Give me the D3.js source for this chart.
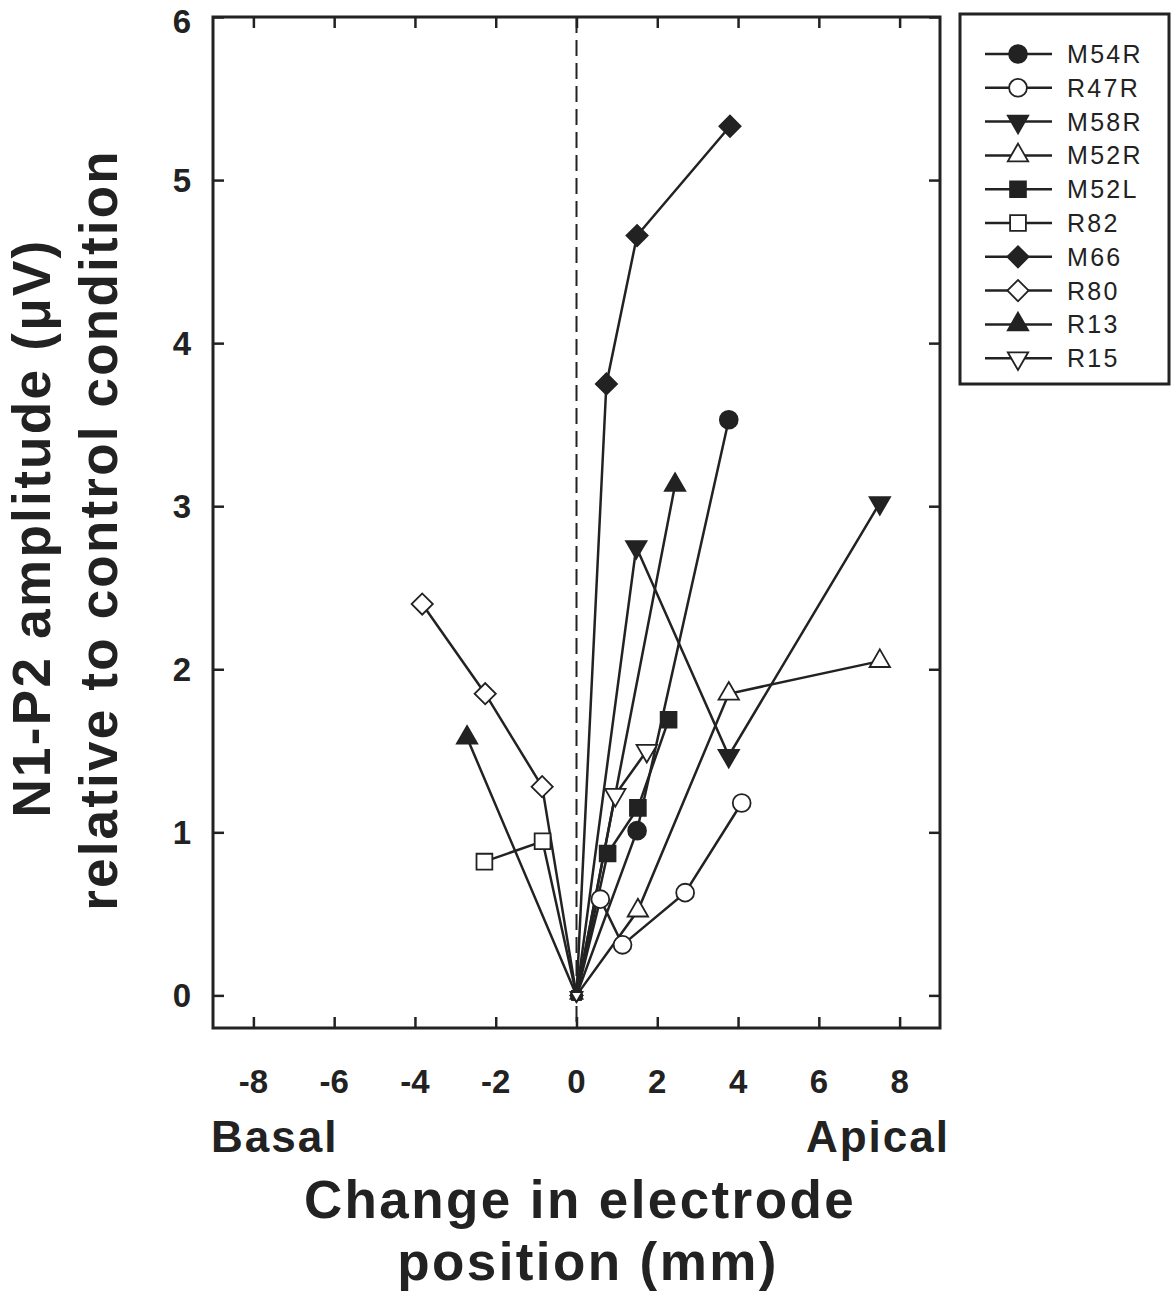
<!DOCTYPE html>
<html>
<head>
    <title>N1-P2 amplitude vs electrode position</title>
    <script src="https://d3js.org/d3.v7.min.js"></script>
    <style>
        body { margin: 0; background: #fff; }
        text { font-family: "Liberation Sans", Arial, sans-serif; fill: #222; }
    </style>
</head>
<body>
    <div id="chart"></div>
    <script>
        // subject names, in legend order
        const subjects = ["M54R", "R47R", "M58R", "M52R", "M52L", "R82", "M66", "R80", "R13", "R15"];

        // [position change (mm), amplitude (uV)] for each subject, in drawing order
        const m54r = [[0, 0], [1.5, 1.01], [3.77, 3.53]];
        const r47r = [[0, 0], [0.59, 0.59], [1.14, 0.31], [2.69, 0.63], [4.09, 1.18]];
        const m58r = [[0, 0], [1.48, 2.75], [3.77, 1.47], [7.51, 3.02]];
        const m52r = [[0, 0], [1.52, 0.52], [3.77, 1.85], [7.51, 2.05]];
        const m52l = [[0, 0], [0.77, 0.87], [1.52, 1.15], [2.28, 1.69]];
        const r82 = [[-2.28, 0.82], [-0.84, 0.945], [0, 0]];
        const m66 = [[0, 0], [0.74, 3.75], [1.5, 4.66], [3.8, 5.33]];
        const r80 = [[-3.82, 2.4], [-2.26, 1.85], [-0.85, 1.28], [0, 0]];
        const r13 = [[-2.71, 1.58], [0, 0], [2.44, 3.13]];
        const r15 = [[0, 0], [0.96, 1.23], [1.74, 1.5]];

        const seriesData = [m54r, r47r, m58r, m52r, m52l, r82, m66, r80, r13, r15];
        const shapes = ["circle", "circle", "down", "up", "square", "square", "diamond", "diamond", "up", "down"];
        const filled = [true, false, true, false, true, false, true, false, true, false];

        const xTicks = [-8, -6, -4, -2, 0, 2, 4, 6, 8];
        const yTicks = [0, 1, 2, 3, 4, 5, 6];

        const width = 1174, height = 1296;
        const ink = "#222";

        const svg = d3.select("#chart")
            .append("svg")
            .attr("width", width)
            .attr("height", height);

        const x = d3.scaleLinear().domain([-9, 9]).range([213, 940]);
        const y = d3.scaleLinear().domain([-0.2, 6]).range([1028, 17]);

        function symbolPath(shape, size) {
            if (shape == "circle") return d3.symbol(d3.symbolCircle, size)();
            if (shape == "square") return d3.symbol(d3.symbolSquare, size)();
            if (shape == "diamond") return d3.symbol(d3.symbolSquare, size * 0.9)();
            return d3.symbol(d3.symbolTriangle, size * 0.72)();
        }
        function symbolRotate(shape) {
            if (shape == "diamond") return 45;
            if (shape == "down") return 180;
            return 0;
        }

        // zero reference line
        svg.append("line")
            .attr("x1", x(0)).attr("x2", x(0))
            .attr("y1", y(6)).attr("y2", y(-0.2))
            .attr("stroke", ink)
            .attr("stroke-width", 2)
            .attr("stroke-dasharray", "16,7");

        // series lines
        const line = d3.line().x(d => x(d[0])).y(d => y(d[1]));
        svg.selectAll(".series")
            .data(seriesData)
            .enter()
            .append("path")
            .attr("class", "series")
            .attr("d", line)
            .attr("fill", "none")
            .attr("stroke", ink)
            .attr("stroke-width", 2.5);

        // markers
        seriesData.forEach((pts, i) => {
            svg.selectAll(".m" + i)
                .data(pts)
                .enter()
                .append("path")
                .attr("class", "m" + i)
                .attr("d", d => symbolPath(shapes[i], (d[0] == 0 && d[1] == 0) ? 80 : 250))
                .attr("transform", d => "translate(" + x(d[0]) + "," + y(d[1]) + ") rotate(" + symbolRotate(shapes[i]) + ")")
                .attr("fill", filled[i] ? ink : "#fff")
                .attr("stroke", ink)
                .attr("stroke-width", 1.8);
        });

        // axes frame with inward ticks on every side
        svg.append("g")
            .attr("transform", "translate(0," + y(-0.2) + ")")
            .call(d3.axisBottom(x).tickValues(xTicks).tickSize(-11).tickFormat(""))
            .call(g => g.select(".domain").remove());
        svg.append("g")
            .attr("transform", "translate(0," + y(6) + ")")
            .call(d3.axisTop(x).tickValues(xTicks).tickSize(-11).tickFormat(""))
            .call(g => g.select(".domain").remove());
        svg.append("g")
            .attr("transform", "translate(" + x(-9) + ",0)")
            .call(d3.axisLeft(y).tickValues(yTicks).tickSize(-11).tickFormat(""))
            .call(g => g.select(".domain").remove());
        svg.append("g")
            .attr("transform", "translate(" + x(9) + ",0)")
            .call(d3.axisRight(y).tickValues(yTicks).tickSize(-11).tickFormat(""))
            .call(g => g.select(".domain").remove());
        svg.selectAll(".tick line").attr("stroke", ink).attr("stroke-width", 2.5);

        svg.append("rect")
            .attr("x", x(-9)).attr("y", y(6))
            .attr("width", x(9) - x(-9)).attr("height", y(-0.2) - y(6))
            .attr("fill", "none")
            .attr("stroke", ink)
            .attr("stroke-width", 3);

        // tick labels
        svg.selectAll(".xlab")
            .data(xTicks)
            .enter()
            .append("text")
            .attr("x", d => x(d))
            .attr("y", 1093)
            .attr("text-anchor", "middle")
            .attr("font-size", 33)
            .attr("font-weight", "bold")
            .text(d => d);
        svg.selectAll(".ylab")
            .data(yTicks)
            .enter()
            .append("text")
            .attr("x", 191)
            .attr("y", d => y(d) + (d == 6 ? 16 : 12))
            .attr("text-anchor", "end")
            .attr("font-size", 33)
            .attr("font-weight", "bold")
            .text(d => d);

        // axis titles
        svg.append("text")
            .attr("x", 211).attr("y", 1152)
            .attr("font-size", 44).attr("font-weight", "bold")
            .attr("letter-spacing", 2)
            .text("Basal");
        svg.append("text")
            .attr("x", 950).attr("y", 1152)
            .attr("text-anchor", "end")
            .attr("font-size", 44).attr("font-weight", "bold")
            .attr("letter-spacing", 2)
            .text("Apical");
        svg.append("text")
            .attr("x", 580).attr("y", 1218)
            .attr("text-anchor", "middle")
            .attr("font-size", 53).attr("font-weight", "bold")
            .attr("letter-spacing", 2.4)
            .text("Change in electrode");
        svg.append("text")
            .attr("x", 588).attr("y", 1280)
            .attr("text-anchor", "middle")
            .attr("font-size", 53).attr("font-weight", "bold")
            .attr("letter-spacing", 2.4)
            .text("position (mm)");
        svg.append("text")
            .attr("transform", "translate(50,528) rotate(-90)")
            .attr("text-anchor", "middle")
            .attr("font-size", 53).attr("font-weight", "bold")
            .attr("letter-spacing", 2.3)
            .text("N1-P2 amplitude (\u03bcV)");
        svg.append("text")
            .attr("transform", "translate(117,530) rotate(-90)")
            .attr("text-anchor", "middle")
            .attr("font-size", 53).attr("font-weight", "bold")
            .attr("letter-spacing", 2.2)
            .text("relative to control condition");

        // legend
        svg.append("rect")
            .attr("x", 960).attr("y", 14)
            .attr("width", 209).attr("height", 370)
            .attr("fill", "#fff")
            .attr("stroke", ink)
            .attr("stroke-width", 3);

        const legend = svg.selectAll(".leg")
            .data(subjects)
            .enter()
            .append("g")
            .attr("transform", (d, i) => "translate(0," + (54 + i * 33.8) + ")");
        legend.append("line")
            .attr("x1", 985).attr("x2", 1052)
            .attr("stroke", ink).attr("stroke-width", 2.5);
        legend.append("path")
            .attr("d", (d, i) => symbolPath(shapes[i], 250))
            .attr("transform", (d, i) => "translate(1018,0) rotate(" + symbolRotate(shapes[i]) + ")")
            .attr("fill", (d, i) => filled[i] ? ink : "#fff")
            .attr("stroke", ink)
            .attr("stroke-width", 1.8);
        legend.append("text")
            .attr("x", 1067).attr("y", 9)
            .attr("font-size", 25)
            .attr("letter-spacing", 2.3)
            .text(d => d);
    </script>
</body>
</html>
